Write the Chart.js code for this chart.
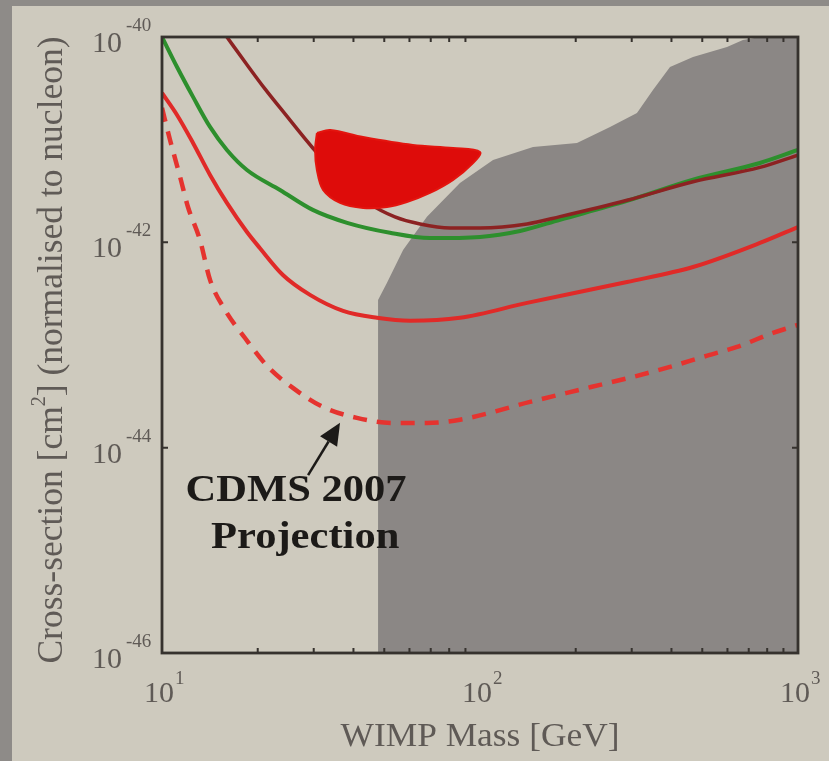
<!DOCTYPE html>
<html>
<head>
<meta charset="utf-8">
<script src="https://cdn.jsdelivr.net/npm/chart.js@4/dist/chart.umd.min.js"></script>
<style>
  html, body { margin: 0; padding: 0; background: #8e8b88; overflow: hidden; }
  canvas { display: block; }
</style>
</head>
<body>
<canvas id="chart" width="829" height="761"></canvas>
<script>
// Spin-independent WIMP-nucleon cross-section limits versus WIMP mass.

// Upper limit curve (dark red)
const limitAMass  = [16.0, 18.24, 21.08, 24.37, 29.8, 37.6, 45.1, 54.0, 64.8, 80.5, 100, 140.6, 178.5, 290, 467.5, 759, 1000];
const limitASigma = [1e-40, 5.71e-41, 3.12e-41, 1.78e-41, 8.3e-42, 3.87e-42, 2.37e-42, 1.77e-42, 1.51e-42, 1.38e-42, 1.38e-42, 1.51e-42, 1.78e-42, 2.57e-42, 3.89e-42, 5.37e-42, 7.08e-42];

// Upper limit curve (green)
const limitBMass  = [10, 11.15, 12.52, 14.16, 16.0, 18.5, 23.5, 29.8, 38.2, 52.1, 69.6, 100, 133.6, 178.5, 290, 467.5, 759, 1000];
const limitBSigma = [1e-40, 5.10e-41, 2.61e-41, 1.33e-41, 7.94e-42, 5.07e-42, 3.24e-42, 2.07e-42, 1.55e-42, 1.24e-42, 1.10e-42, 1.13e-42, 1.29e-42, 1.66e-42, 2.53e-42, 4.07e-42, 5.93e-42, 7.94e-42];

// Upper limit curve (red)
const limitCMass  = [10, 11.15, 12.52, 14.16, 16.0, 18.5, 20.3, 24.0, 29.2, 37.1, 47.4, 60.3, 86.5, 140.6, 290, 467.5, 759, 1000];
const limitCSigma = [2.85e-41, 1.74e-41, 9.29e-42, 4.53e-42, 2.42e-42, 1.26e-42, 8.81e-43, 4.81e-43, 3.08e-43, 2.15e-43, 1.84e-43, 1.72e-43, 1.84e-43, 2.57e-43, 4.11e-43, 5.75e-43, 9.86e-43, 1.41e-42];

// CDMS 2007 projected sensitivity (dashed red)
const projMass  = [10, 10.6, 11.4, 12.07, 13.17, 14.16, 15.78, 18.24, 21.4, 25.8, 32.1, 41.0, 53.3, 68.1, 86.5, 143.6, 187.7, 238.4, 302.8, 395.8, 502.8, 643, 834.5, 1000];
const projSigma = [2.04e-41, 9.93e-42, 4.34e-42, 2.21e-42, 1.05e-42, 4.31e-43, 2.20e-43, 1.17e-43, 6.26e-44, 3.82e-44, 2.49e-44, 1.95e-44, 1.74e-44, 1.74e-44, 1.87e-44, 2.79e-44, 3.42e-44, 4.09e-44, 4.89e-44, 6.12e-44, 7.66e-44, 9.59e-44, 1.31e-43, 1.57e-43];

// Model parameter region (grey, filled down to the axis floor)
const regionMass  = [47.8, 47.8, 51.0, 57.3, 68.1, 86.5, 109.9, 146.8, 201.8, 256.4, 311.6, 349.9, 395.8, 467.5, 598, 671, 759.5, 1000];
const regionSigma = [1e-46, 2.75e-43, 4.03e-43, 8.44e-43, 1.77e-42, 3.79e-42, 6.34e-42, 8.49e-42, 9.29e-42, 1.33e-41, 1.82e-41, 3.05e-41, 5.1e-41, 6.38e-41, 8.0e-41, 9.35e-41, 1e-40, 1e-40];

// Signal region (red closed contour)
const signalMass  = [30.7, 33.8, 42.9, 61.5, 82.3, 100, 95.1, 82.3, 69.6, 58.9, 51.0, 42.9, 36.3, 32.1, 30.7, 30.3, 30.7];
const signalSigma = [1.16e-41, 1.24e-41, 1.06e-41, 8.87e-42, 8.3e-42, 7.59e-42, 5.93e-42, 4.06e-42, 3.03e-42, 2.47e-42, 2.21e-42, 2.16e-42, 2.42e-42, 3.24e-42, 5.07e-42, 7.94e-42, 1.16e-41];

// Axis ticks
const xMajorTicks = [10, 100, 1000];
const xTickExponents = ['1', '2', '3'];
const xMinorTicks = [20, 30, 40, 50, 60, 70, 80, 90, 200, 300, 400, 500, 600, 700, 800, 900];
const yMajorTicks = [1e-40, 1e-42, 1e-44, 1e-46];
const yTickExponents = ['-40', '-42', '-44', '-46'];

// Annotation: label lines, label anchor and arrow ends in data units
const noteLines = ['CDMS 2007', 'Projection'];
const noteAnchors = [[26.4, 3.0e-45], [28.2, 1.05e-45]];
const arrowTail = [28.8, 5.4e-45];
const arrowTip = [36.3, 1.75e-44];

const toPoints = (xs, ys) => xs.map((v, i) => ({ x: v, y: ys[i] }));

const SERIF = '"Liberation Serif", "DejaVu Serif", serif';

const decor = {
  id: 'decor',
  beforeDraw(chart) {
    const ctx = chart.ctx;
    ctx.save();
    ctx.fillStyle = '#8e8b88';
    ctx.fillRect(0, 0, chart.width, chart.height);
    ctx.fillStyle = '#cecabe';
    ctx.fillRect(12, 6, chart.width - 12, chart.height - 6);
    ctx.restore();
  },
  afterDatasetsDraw(chart) {
    const { ctx, chartArea: a, scales: { x, y } } = chart;
    ctx.save();

    // plot frame
    ctx.strokeStyle = '#36322e';
    ctx.lineWidth = 2.8;
    ctx.strokeRect(a.left, a.top, a.right - a.left, a.bottom - a.top);

    // inward tick marks
    ctx.lineWidth = 2;
    ctx.beginPath();
    for (const v of xMinorTicks) {
      const px = x.getPixelForValue(v);
      ctx.moveTo(px, a.bottom); ctx.lineTo(px, a.bottom - 5);
      ctx.moveTo(px, a.top); ctx.lineTo(px, a.top + 5);
    }
    for (const v of yMajorTicks) {
      const py = y.getPixelForValue(v);
      ctx.moveTo(a.left, py); ctx.lineTo(a.left + 6, py);
      ctx.moveTo(a.right, py); ctx.lineTo(a.right - 6, py);
    }
    ctx.stroke();

    // y tick labels: 10 with exponent
    ctx.fillStyle = '#5f5a56';
    yMajorTicks.forEach((v, i) => {
      const py = y.getPixelForValue(v);
      ctx.font = '30px ' + SERIF;
      ctx.textAlign = 'right';
      ctx.textBaseline = 'alphabetic';
      ctx.fillText('10', a.left - 40, py + 15);
      ctx.font = '19px ' + SERIF;
      ctx.textAlign = 'left';
      ctx.fillText(yTickExponents[i], a.left - 36, py - 6);
    });

    // x tick labels
    xMajorTicks.forEach((v, i) => {
      const px = x.getPixelForValue(v);
      ctx.font = '30px ' + SERIF;
      ctx.textAlign = 'center';
      ctx.fillText('10', px - 3, a.bottom + 49);
      ctx.font = '19px ' + SERIF;
      ctx.textAlign = 'left';
      ctx.fillText(xTickExponents[i], px + 13, a.bottom + 31);
    });

    // axis titles
    ctx.font = '34px ' + SERIF;
    ctx.textAlign = 'center';
    ctx.textBaseline = 'middle';
    ctx.save();
    ctx.translate((a.left + a.right) / 2, a.bottom + 84);
    ctx.scale(1.04, 1);
    ctx.fillText('WIMP Mass [GeV]', 0, 0);
    ctx.restore();

    ctx.save();
    ctx.translate(53, 350);
    ctx.rotate(-Math.PI / 2);
    const parts = ['Cross-section [cm', '2', '] (normalised to nucleon)'];
    ctx.font = '35.5px ' + SERIF;
    const w0 = ctx.measureText(parts[0]).width;
    const w2 = ctx.measureText(parts[2]).width;
    ctx.font = '20px ' + SERIF;
    const w1 = ctx.measureText(parts[1]).width;
    let cx = -(w0 + w1 + w2) / 2;
    ctx.textAlign = 'left';
    ctx.font = '35.5px ' + SERIF;
    ctx.fillText(parts[0], cx, 0); cx += w0;
    ctx.font = '20px ' + SERIF;
    ctx.fillText(parts[1], cx, -13); cx += w1;
    ctx.font = '35.5px ' + SERIF;
    ctx.fillText(parts[2], cx, 0);
    ctx.restore();

    // annotation arrow
    const tx = x.getPixelForValue(arrowTail[0]), ty = y.getPixelForValue(arrowTail[1]);
    const hx = x.getPixelForValue(arrowTip[0]), hy = y.getPixelForValue(arrowTip[1]);
    const ang = Math.atan2(hy - ty, hx - tx);
    const headLen = 22, headHalf = 10;
    const bx = hx - headLen * Math.cos(ang), by = hy - headLen * Math.sin(ang);
    ctx.strokeStyle = '#1c1a18';
    ctx.fillStyle = '#1c1a18';
    ctx.lineWidth = 2.5;
    ctx.beginPath();
    ctx.moveTo(tx, ty); ctx.lineTo(bx, by);
    ctx.stroke();
    ctx.beginPath();
    ctx.moveTo(hx, hy);
    ctx.lineTo(bx + headHalf * Math.sin(ang), by - headHalf * Math.cos(ang));
    ctx.lineTo(bx - headHalf * Math.sin(ang), by + headHalf * Math.cos(ang));
    ctx.closePath();
    ctx.fill();

    // annotation text
    ctx.font = 'bold 38px ' + SERIF;
    ctx.textAlign = 'center';
    ctx.textBaseline = 'alphabetic';
    noteLines.forEach((t, i) => {
      const px = x.getPixelForValue(noteAnchors[i][0]);
      const py = y.getPixelForValue(noteAnchors[i][1]);
      ctx.save();
      ctx.translate(px, py);
      ctx.scale(1.12, 1);
      ctx.fillText(t, 0, 0);
      ctx.restore();
    });

    ctx.restore();
  }
};

const lineStyle = { showLine: true, pointRadius: 0, fill: false, cubicInterpolationMode: 'monotone' };

new Chart(document.getElementById('chart'), {
  type: 'scatter',
  data: {
    datasets: [
      { data: toPoints(signalMass, signalSigma), showLine: true, pointRadius: 0, tension: 0.35,
        fill: 'shape', backgroundColor: '#de0c0a', borderColor: '#e3150f', borderWidth: 2, order: 1 },
      { ...lineStyle, data: toPoints(limitAMass, limitASigma), borderColor: '#8c2222', borderWidth: 3.5, order: 2 },
      { ...lineStyle, data: toPoints(limitBMass, limitBSigma), borderColor: '#2d8f2d', borderWidth: 4, order: 3 },
      { ...lineStyle, data: toPoints(limitCMass, limitCSigma), borderColor: '#e02a28', borderWidth: 4, order: 4 },
      { ...lineStyle, data: toPoints(projMass, projSigma), borderColor: '#e5332f', borderWidth: 4.5, borderDash: [14, 10], order: 5 },
      { data: toPoints(regionMass, regionSigma), showLine: true, pointRadius: 0, tension: 0,
        fill: 'start', backgroundColor: '#8b8785', borderWidth: 0, order: 10 }
    ]
  },
  options: {
    responsive: false,
    animation: false,
    devicePixelRatio: 1,
    layout: { padding: { left: 162, top: 37, right: 31, bottom: 108 } },
    plugins: { legend: { display: false }, tooltip: { enabled: false } },
    scales: {
      x: { type: 'logarithmic', min: 10, max: 1000, display: false },
      y: { type: 'logarithmic', min: 1e-46, max: 1e-40, display: false }
    }
  },
  plugins: [decor]
});
</script>
</body>
</html>
